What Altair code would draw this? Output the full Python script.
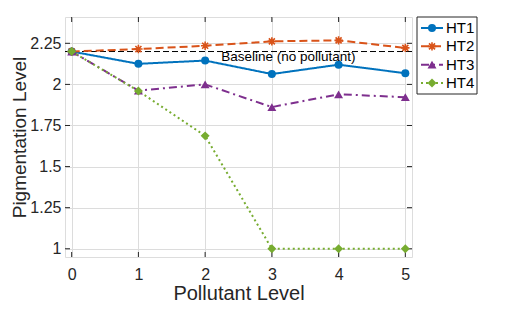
import altair as alt
import pandas as pd

levels = [0, 1, 2, 3, 4, 5]
series_names = ["HT1", "HT2", "HT3", "HT4"]
ht1 = [2.20, 2.125, 2.145, 2.063, 2.12, 2.068]
ht2 = [2.20, 2.215, 2.235, 2.262, 2.268, 2.222]
ht3 = [2.20, 1.962, 2.00, 1.862, 1.940, 1.922]
ht4 = [2.20, 1.960, 1.687, 1.00, 1.00, 1.00]
values = [ht1, ht2, ht3, ht4]

colors = ["#0072BD", "#D95319", "#7E2F8E", "#77AC30"]
dashes = [[1, 0], [8, 4], [8, 4, 2, 4], [2, 3]]
asterisk = "M0,-1L0,1M-1,0L1,0M-0.72,-0.72L0.72,0.72M-0.72,0.72L0.72,-0.72"
shapes = ["circle", asterisk, "triangle-up", "diamond"]
filled = [True, False, True, True]
sizes = [64, 70, 80, 80]

baseline_value = 2.2
baseline_label = "Baseline (no pollutant)"
label_x = 2.24
label_y = 2.168

x_ticks = [0, 1, 2, 3, 4, 5]
y_ticks = [1, 1.25, 1.5, 1.75, 2, 2.25]

FONT = "Liberation Sans"
W, H = 347, 240
xscale = alt.Scale(domain=[-0.1, 5.1], nice=False, zero=False)
yscale = alt.Scale(domain=[0.95, 2.41], nice=False, zero=False)

xaxis = alt.Axis(values=x_ticks, title="Pollutant Level", grid=True, gridColor="#dcdcdc",
                 domain=False, ticks=False, labelPadding=9, labelFontSize=16, format="d",
                 titleFontSize=20, titleFontWeight="normal", titlePadding=1,
                 labelColor="#262626", titleColor="#262626", labelFont=FONT, titleFont=FONT)
yaxis = alt.Axis(values=y_ticks, title="Pigmentation Level", grid=True, gridColor="#dcdcdc",
                 domain=False, ticks=False, labelPadding=4, labelFontSize=16,
                 labelExpr="toString(datum.value)",
                 titleFontSize=19, titleFontWeight="normal", titlePadding=0,
                 labelColor="#262626", titleColor="#262626", labelFont=FONT, titleFont=FONT)

layers = []

base_df = pd.DataFrame({"y": [baseline_value]})
layers.append(
    alt.Chart(base_df).mark_rule(color="black", strokeWidth=1, strokeDash=[6, 3]).encode(
        y=alt.Y("y:Q", scale=yscale, axis=yaxis)
    )
)

xt_df = pd.DataFrame({"x": x_ticks})
yt_df = pd.DataFrame({"y": y_ticks})
layers.append(alt.Chart(xt_df).mark_rule(color="#262626").encode(
    x=alt.X("x:Q", scale=xscale, axis=xaxis), y=alt.value(H), y2=alt.value(H - 5)))
layers.append(alt.Chart(xt_df).mark_rule(color="#262626").encode(
    x=alt.X("x:Q", scale=xscale), y=alt.value(0), y2=alt.value(5)))
layers.append(alt.Chart(yt_df).mark_rule(color="#262626").encode(
    y=alt.Y("y:Q", scale=yscale), x=alt.value(0), x2=alt.value(5)))
layers.append(alt.Chart(yt_df).mark_rule(color="#262626").encode(
    y=alt.Y("y:Q", scale=yscale), x=alt.value(W), x2=alt.value(W - 5)))

for name, vals, c, d in zip(series_names, values, colors, dashes):
    df = pd.DataFrame({"x": levels, "y": vals})
    layers.append(alt.Chart(df).mark_line(color=c, strokeWidth=2, strokeDash=d).encode(
        x=alt.X("x:Q", scale=xscale), y=alt.Y("y:Q", scale=yscale)))

for name, vals, c, s, f, sz in zip(series_names, values, colors, shapes, filled, sizes):
    df = pd.DataFrame({"x": levels, "y": vals})
    mk = dict(shape=s, size=sz, color=c, opacity=1, filled=f)
    if not f:
        mk["strokeWidth"] = 1.6
    layers.append(alt.Chart(df).mark_point(**mk).encode(
        x=alt.X("x:Q", scale=xscale), y=alt.Y("y:Q", scale=yscale)))

txt_df = pd.DataFrame({"x": [label_x], "y": [label_y], "t": [baseline_label]})
layers.append(alt.Chart(txt_df).mark_text(align="left", baseline="middle", fontSize=13.5,
                                          font=FONT, color="black").encode(
    x=alt.X("x:Q", scale=xscale), y=alt.Y("y:Q", scale=yscale), text="t:N"))

main = alt.layer(*layers)

lyscale = alt.Scale(type="point", domain=series_names, range=[11, 66], padding=0)
leg_layers = [
    alt.Chart(pd.DataFrame({"a": [0]})).mark_rect(fill="white", stroke="#262626", strokeWidth=1).encode(
        x=alt.value(W + 5), x2=alt.value(W + 65), y=alt.value(0), y2=alt.value(77))
]
for name, c, d, s, f, sz in zip(series_names, colors, dashes, shapes, filled, sizes):
    df = pd.DataFrame({"series": [name]})
    leg_layers.append(alt.Chart(df).mark_rule(color=c, strokeWidth=2, strokeDash=d).encode(
        y=alt.Y("series:N", scale=lyscale, axis=None), x=alt.value(W + 9), x2=alt.value(W + 31)))
    mk = dict(shape=s, size=sz, color=c, opacity=1, filled=f)
    if not f:
        mk["strokeWidth"] = 1.6
    leg_layers.append(alt.Chart(df).mark_point(**mk).encode(
        y=alt.Y("series:N", scale=lyscale, axis=None), x=alt.value(W + 20)))
    leg_layers.append(alt.Chart(df).mark_text(align="left", baseline="middle", fontSize=15,
                                              font=FONT, color="black").encode(
        y=alt.Y("series:N", scale=lyscale, axis=None), x=alt.value(W + 34), text="series:N"))
legend = alt.layer(*leg_layers)

chart = alt.layer(main, legend).resolve_scale(y="independent").properties(
    width=W, height=H,
    autosize=alt.AutoSizeParams(type="none"),
    padding={"left": 57, "top": 9, "right": 92, "bottom": 53},
).configure_view(stroke="#262626", strokeWidth=1).configure(background="white")

chart.save("out.html", embed_options={"renderer": "svg", "actions": False})
